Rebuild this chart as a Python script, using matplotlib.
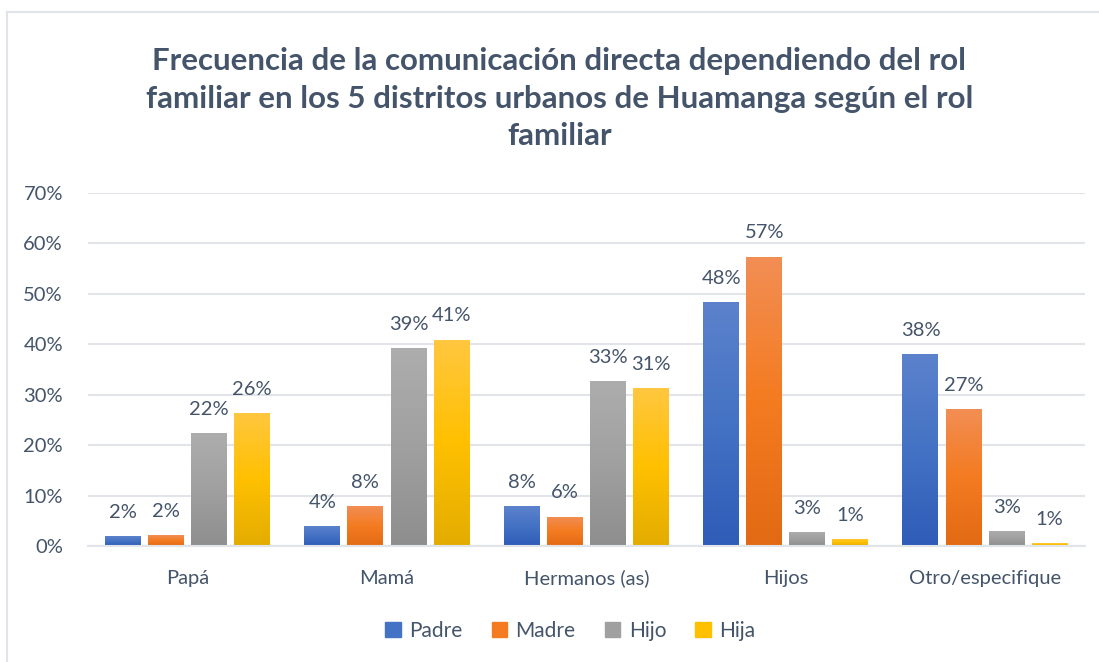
import matplotlib.pyplot as plt
import numpy as np
from matplotlib.colors import LinearSegmentedColormap
from matplotlib.patches import Rectangle

plt.rcParams['font.family'] = ['Lato', 'DejaVu Sans']

categorias = ["Papá", "Mamá", "Hermanos (as)", "Hijos", "Otro/especifique"]
series = ["Padre", "Madre", "Hijo", "Hija"]
padre = [0.019, 0.040, 0.079, 0.484, 0.381]
madre = [0.021, 0.079, 0.058, 0.574, 0.272]
hijo = [0.224, 0.393, 0.327, 0.028, 0.030]
hija = [0.264, 0.409, 0.313, 0.014, 0.0052]
valores = [padre, madre, hijo, hija]

# top, middle, bottom colours of each gradient
gradientes = [
    ["#5C82CC", "#4472C4", "#2E5CB8"],
    ["#F28E55", "#F47B20", "#E26A14"],
    ["#ADADAD", "#A0A0A0", "#8E8E8E"],
    ["#FFC740", "#FFC000", "#E3AC00"],
]
texto = "#44546A"
rejilla = "#E1E4E8"

fig = plt.figure(figsize=(10.99, 6.62), dpi=100)
ax = fig.add_axes([0.080, 0.1752, 0.907, 0.5333])

x = np.arange(len(categorias))
paso = 0.216
ancho = 0.18

for i, (nombre, vals) in enumerate(zip(series, valores)):
    cmap = LinearSegmentedColormap.from_list(nombre, gradientes[i][::-1])
    pos = x + (i - 1.5) * paso
    barras = ax.bar(pos, vals, ancho, color=gradientes[i][1], label=nombre, zorder=2)
    for b, v in zip(barras, vals):
        b.set_facecolor("none")
        b.set_edgecolor("none")
        grad = np.linspace(0, 1, 256).reshape(-1, 1)
        im = ax.imshow(grad, cmap=cmap, origin="lower", aspect="auto",
                       extent=[b.get_x(), b.get_x() + b.get_width(), 0, v], zorder=2)
        im.set_clip_path(b)
        ax.annotate(f"{v:.0%}", (b.get_x() + b.get_width() / 2, v),
                    xytext=(0, 11), textcoords="offset points",
                    ha="center", va="bottom", fontsize=14.5, color=texto)

ax.set_xlim(-0.5, len(categorias) - 0.5)
ax.set_ylim(0, 0.7)
ax.set_yticks(np.arange(0, 0.71, 0.1))
ax.set_yticklabels([f"{int(round(t * 100))}%" for t in np.arange(0, 0.71, 0.1)])
ax.set_xticks(x)
ax.set_xticklabels(categorias)
ax.tick_params(axis="both", length=0, labelsize=14.5, labelcolor=texto)
ax.tick_params(axis="y", pad=18)
ax.tick_params(axis="x", pad=17)
ax.grid(axis="y", color=rejilla, linewidth=1.5, zorder=0)
ax.set_axisbelow(True)
for lado in ["top", "right", "left"]:
    ax.spines[lado].set_visible(False)
ax.spines["bottom"].set_color(rejilla)
ax.spines["bottom"].set_linewidth(1.5)
ax.spines["bottom"].set_zorder(3)

handles = [Rectangle((0, 0), 1, 1, color=g[1]) for g in gradientes]
fig.legend(handles, series, loc="center", bbox_to_anchor=(0.519, 0.047), ncol=4,
           frameon=False, fontsize=15, labelcolor=texto, handlelength=0.75,
           handleheight=0.75, handletextpad=0.4, columnspacing=1.4)

fig.text(0.509, 0.851,
         "Frecuencia de la comunicación directa dependiendo del rol\n"
         "familiar en los 5 distritos urbanos de Huamanga según el rol\n"
         "familiar",
         ha="center", va="center", fontsize=22.5, fontweight="bold",
         color=texto, linespacing=1.42)

# outer frame of the chart
fig.add_artist(plt.Line2D([0.0064, 1.0], [1 - 12 / 662, 1 - 12 / 662], color=rejilla,
                          linewidth=1.5, transform=fig.transFigure))
fig.add_artist(plt.Line2D([0.0064, 0.0064], [0.0, 1 - 12 / 662], color=rejilla,
                          linewidth=1.5, transform=fig.transFigure))

fig.savefig("out.png", dpi=100)
